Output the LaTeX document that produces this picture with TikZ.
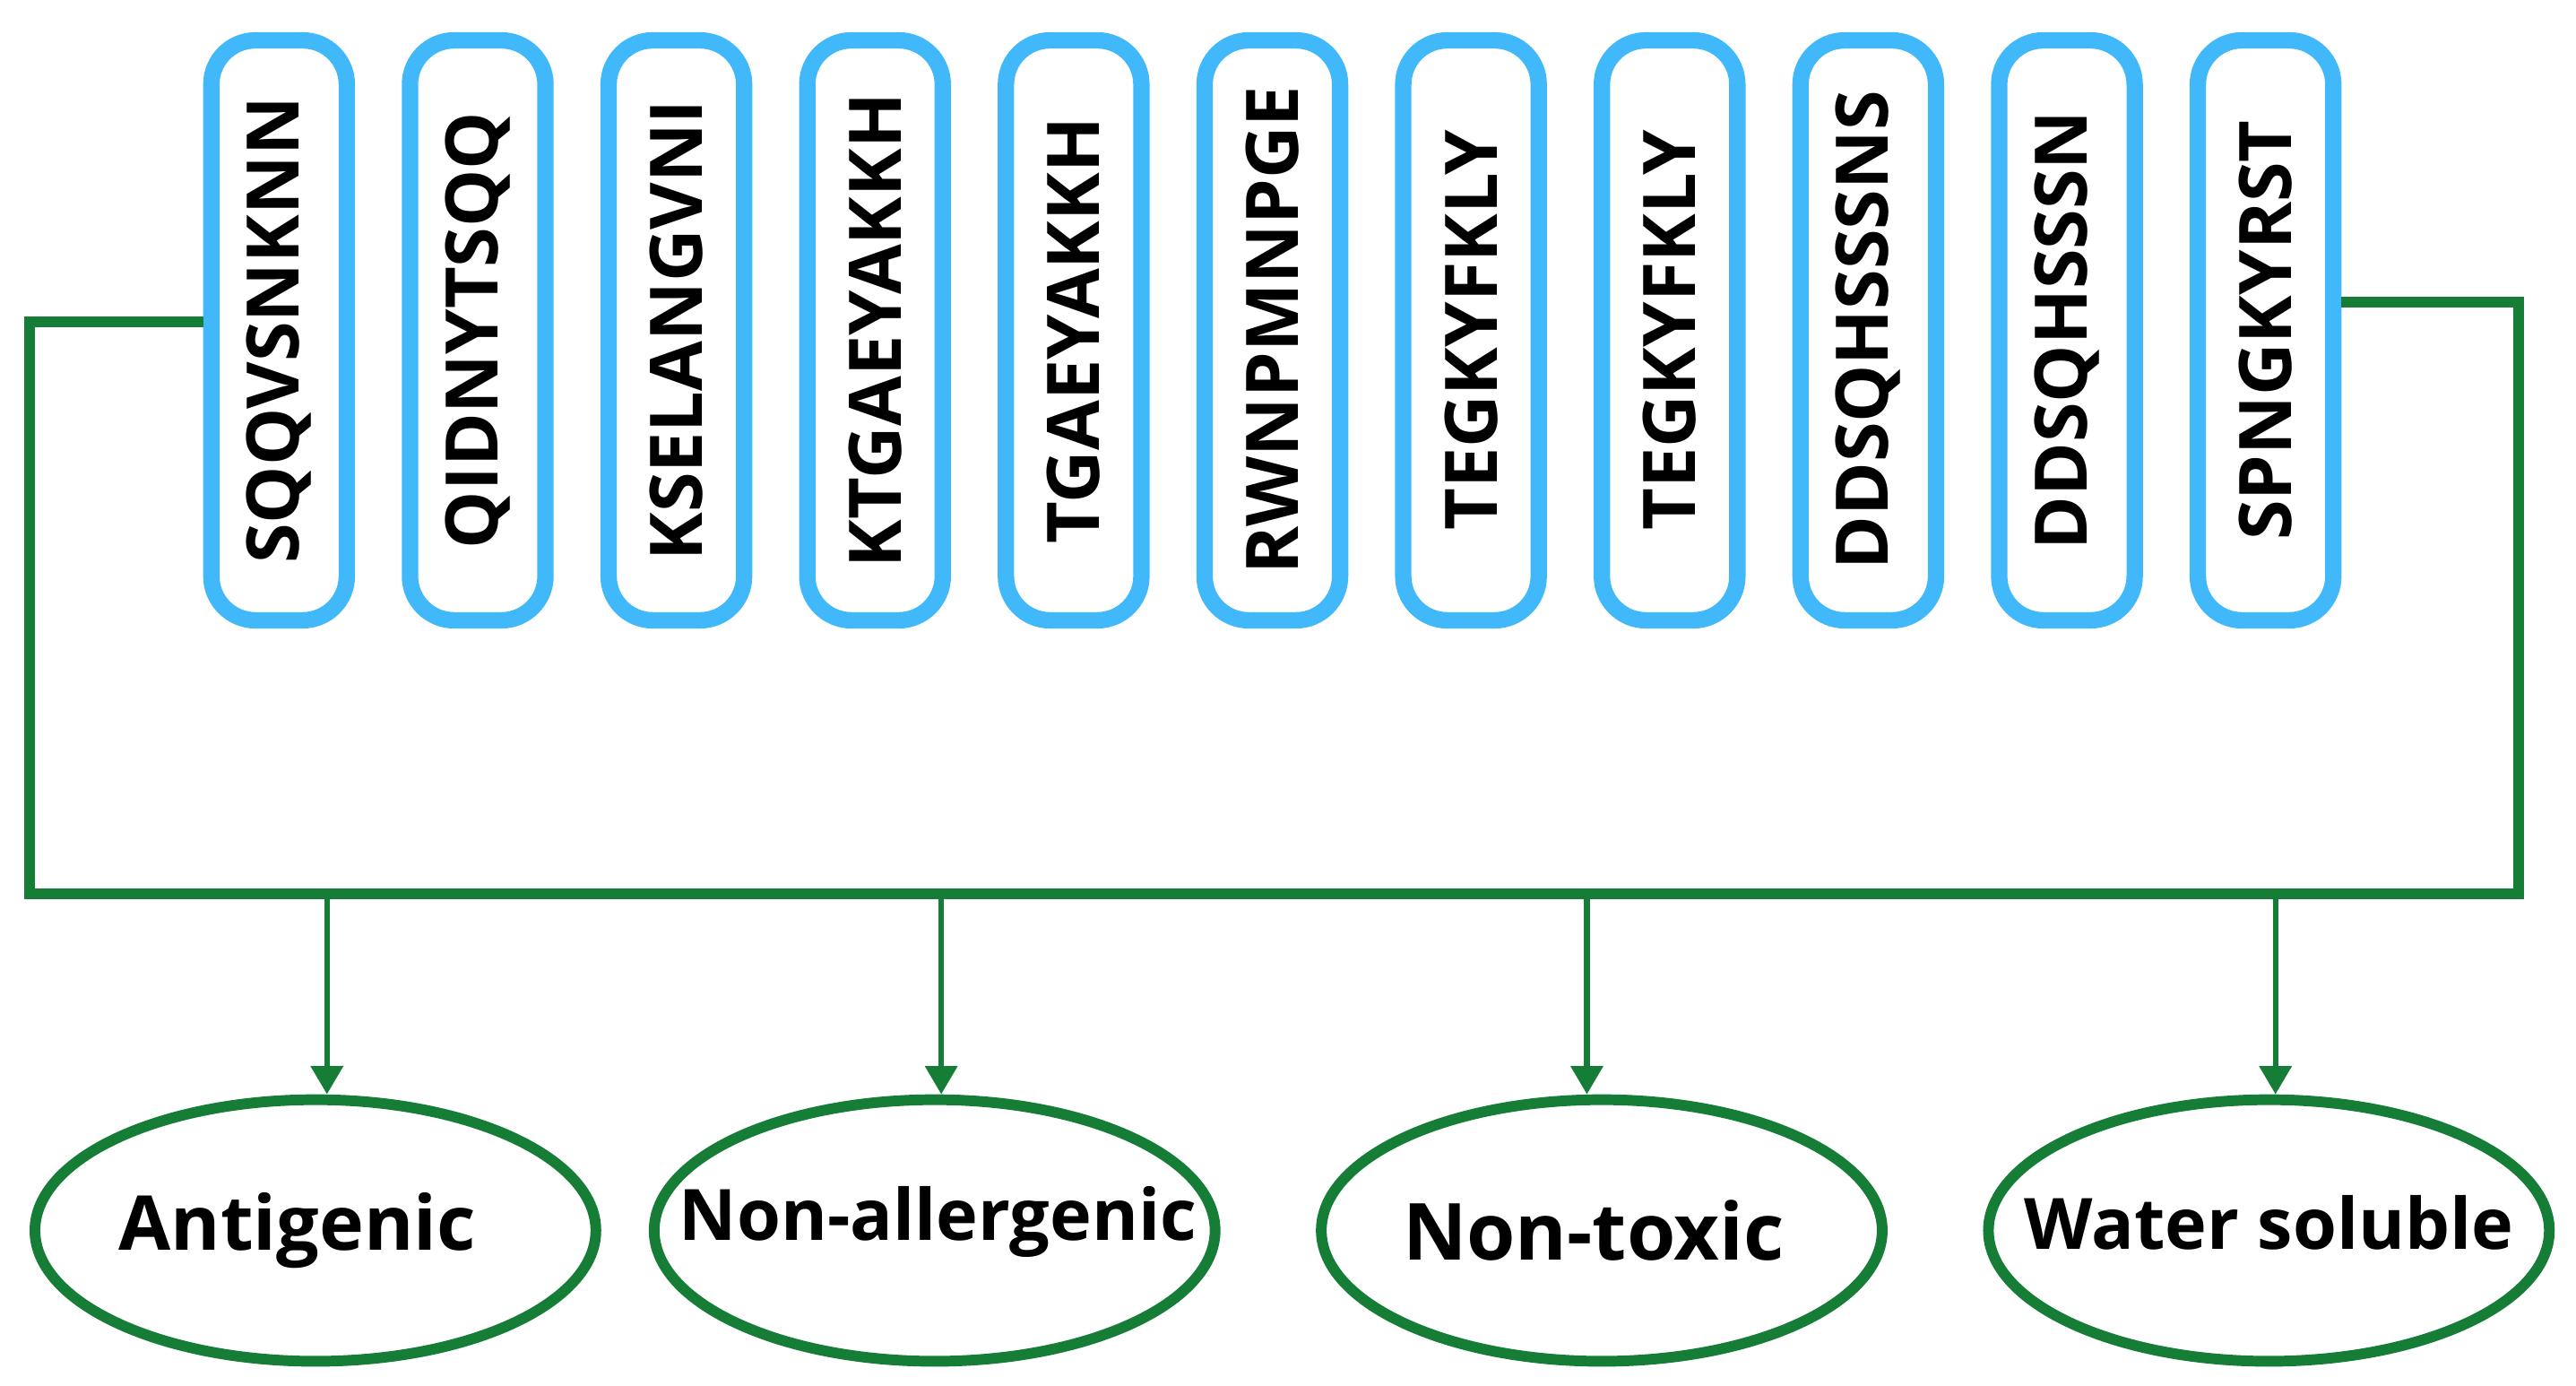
\documentclass[tikz,border=0pt]{standalone}
\usepackage{fontspec}
\setmainfont{Open Sans}
\usetikzlibrary{arrows.meta,shapes.geometric}
\definecolor{pblue}{RGB}{64,184,250}
\definecolor{pgreen}{RGB}{22,125,55}
\tikzset{
  pep/.style={draw=pblue,line width=5.2pt,rounded corners=14pt,minimum width=43pt,minimum height=184pt,inner sep=0pt},
  peptext/.style={font=\bfseries\fontsize{23}{25}\selectfont,rotate=90},
  prop/.style={draw=pgreen,line width=3.4pt,ellipse,minimum width=178pt,minimum height=83pt,inner sep=0pt},
  proptext/.style={font=\bfseries\fontsize{24}{26}\selectfont},
  gline/.style={draw=pgreen,line width=3.4pt},
  garrow/.style={draw=pgreen,line width=1.8pt,-{Triangle[length=9pt,width=10pt]}}
}
\begin{document}
\begin{tikzpicture}[x=0.01842cm,y=-0.01842cm]
\useasboundingbox (0,0) rectangle (1560,839);
\foreach \i/\t in {0/SQQVSNKNN,1/QIDNYTSQQ,2/KSELANGVNI,3/KTGAEYAKKH,4/TGAEYAKKH,5/RWNPMNPGE,6/TEGKYFKLY,7/TEGKYFKLY,8/DDSQHSSSNS,9/DDSQHSSSN,10/SPNGKYRST}{
  \node[pep] (b\i) at ({169+120.3*\i},200) {};
  \node[peptext] (t\i) at (b\i.center) {\t};
}
\coordinate (lt) at (18,195);
\coordinate (lb) at (18,541);
\coordinate (rt) at (1525,183);
\coordinate (rb) at (1525,541);
\draw[gline] (b0.west |- lt) -- (lt) -- (lb) -- (rb) -- (rt) -- (b10.east |- rt);
\node[prop] (e1) at (191,745) {};
\node[prop] (e2) at (566,745) {};
\node[prop] (e3) at (970,745) {};
\node[prop] (e4) at (1374,745) {};
\node[proptext] (l1) at (180,745) {Antigenic};
\node[proptext,font=\bfseries\fontsize{22.5}{24}\selectfont] (l2) at (568,740) {Non-allergenic};
\node[proptext,font=\bfseries\fontsize{25}{27}\selectfont] (l3) at (965,745) {Non-toxic};
\node[proptext,font=\bfseries\fontsize{22.5}{24}\selectfont] (l4) at (1374,740) {Water soluble};
\coordinate (a1) at (198,541);
\coordinate (a2) at (570,541);
\coordinate (a3) at (961,541);
\coordinate (a4) at (1378,541);
\draw[garrow] (a1) -- (a1 |- e1.north);
\draw[garrow] (a2) -- (a2 |- e2.north);
\draw[garrow] (a3) -- (a3 |- e3.north);
\draw[garrow] (a4) -- (a4 |- e4.north);
\end{tikzpicture}
\end{document}
